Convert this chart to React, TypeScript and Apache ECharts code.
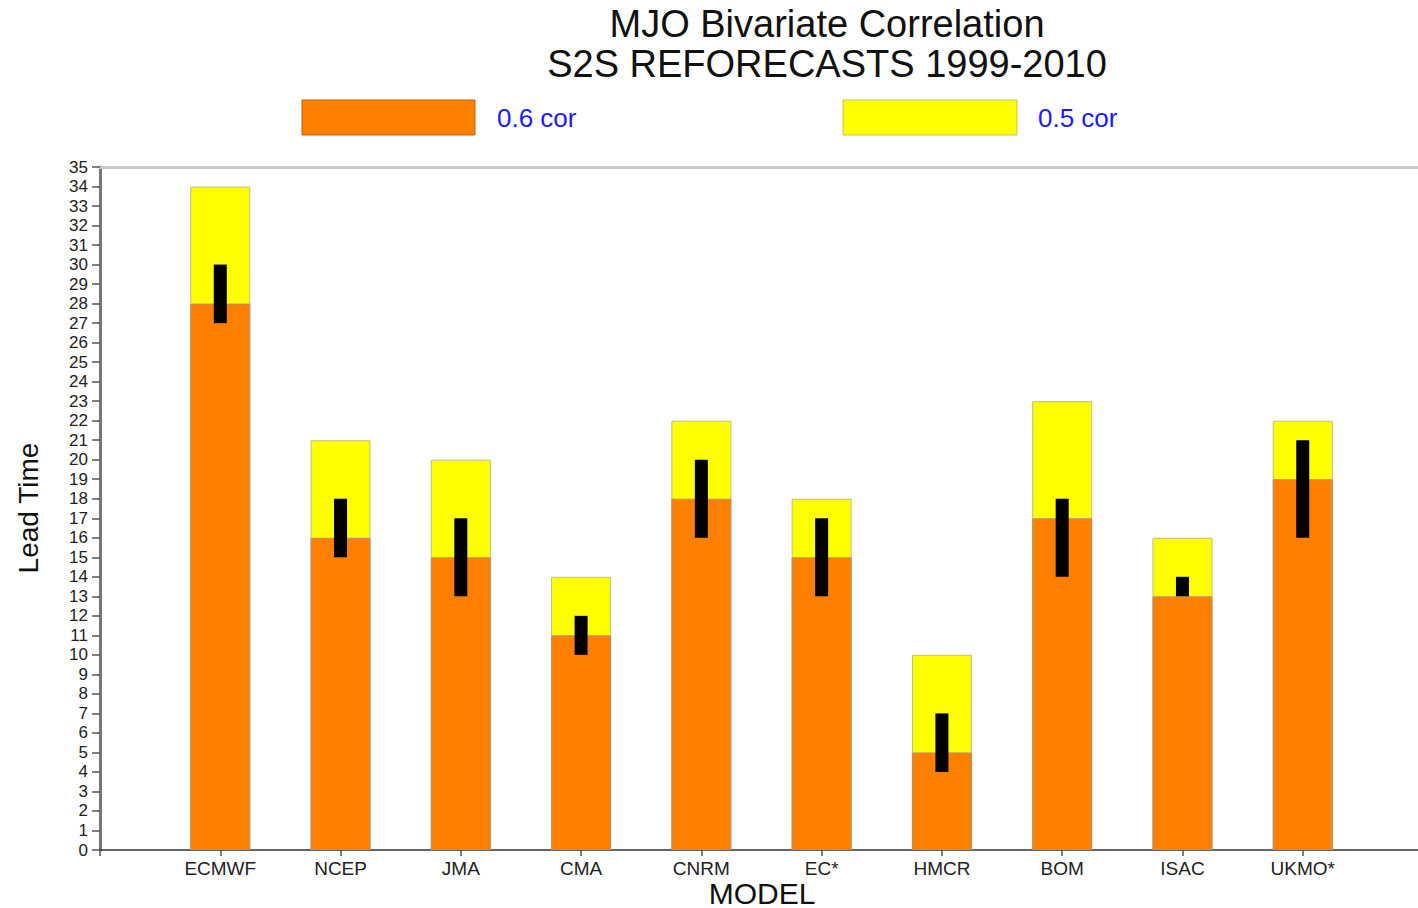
import React, { useEffect, useRef } from "react";
import * as echarts from "echarts";

const models = ["ECMWF", "NCEP", "JMA", "CMA", "CNRM", "EC*", "HMCR", "BOM", "ISAC", "UKMO*"];
const cor06 = [28, 16, 15, 11, 18, 15, 5, 17, 13, 19];
const cor05 = [34, 21, 20, 14, 22, 18, 10, 23, 16, 22];
const errLow = [27, 15, 13, 10, 16, 13, 4, 14, 13, 16];
const errHigh = [30, 18, 17, 12, 20, 17, 7, 18, 14, 21];

const FONT = "'Liberation Sans', Arial, Helvetica, sans-serif";

export default function App() {
  const ref = useRef<HTMLDivElement>(null);
  useEffect(() => {
    if (!ref.current) return;
    const chart = echarts.init(ref.current, undefined, { renderer: "svg" });
    const xs = models.map((_, i) => i + 1);
    const option: any = {
      animation: false,
      backgroundColor: "#ffffff",
      textStyle: { fontFamily: FONT },
      title: [
        {
          text: "MJO Bivariate Correlation",
          left: 822,
          top: 0,
          textAlign: "center",
          textStyle: { fontFamily: FONT, fontSize: 38, fontWeight: "normal", color: "#111" },
        },
        {
          text: "S2S REFORECASTS 1999-2010",
          left: 822,
          top: 40,
          textAlign: "center",
          textStyle: { fontFamily: FONT, fontSize: 38, fontWeight: "normal", color: "#111" },
        },
      ],
      legend: { show: false },
      graphic: [
        { type: "rect", shape: { x: 302, y: 100, width: 173, height: 35 }, style: { fill: "#ff8000", stroke: "#c06010", lineWidth: 1 } },
        { type: "text", x: 497, y: 118, style: { text: "0.6 cor", fill: "#1a1aff", fontSize: 26, fontFamily: FONT, textVerticalAlign: "middle" } },
        { type: "rect", shape: { x: 843, y: 100, width: 174, height: 35 }, style: { fill: "#ffff00", stroke: "#c8c060", lineWidth: 1 } },
        { type: "text", x: 1038, y: 118, style: { text: "0.5 cor", fill: "#1a1aff", fontSize: 26, fontFamily: FONT, textVerticalAlign: "middle" } },
        { type: "text", x: 762, y: 893, style: { text: "MODEL", fill: "#111", fontSize: 30, fontFamily: FONT, textAlign: "center", textVerticalAlign: "middle" } },
        { type: "text", x: 28, y: 508, rotation: Math.PI / 2, style: { text: "Lead Time", fill: "#111", fontSize: 28, fontFamily: FONT, textAlign: "center", textVerticalAlign: "middle" } },
      ],
      grid: { left: 100, top: 167, right: -5, bottom: 58, containLabel: false, outerBoundsMode: "none" },
      xAxis: [
        {
          type: "value",
          min: 0,
          max: 11,
          interval: 1,
          position: "bottom",
          splitLine: { show: false },
          axisLine: { show: true, onZero: false, lineStyle: { color: "#333", width: 1.5 } },
          axisTick: { show: true, length: 6, lineStyle: { color: "#555", width: 1.5 } },
          axisLabel: {
            show: true,
            fontSize: 19,
            color: "#222",
            fontFamily: FONT,
            margin: 9,
            formatter: (v: number) => (v >= 1 && v <= models.length ? models[v - 1] : ""),
          },
        },
        {
          type: "value",
          min: 0,
          max: 11,
          position: "top",
          splitLine: { show: false },
          axisLine: { show: true, onZero: false, lineStyle: { color: "#c8c8c8", width: 3 } },
          axisTick: { show: false },
          axisLabel: { show: false },
        },
      ],
      yAxis: {
        type: "value",
        min: 0,
        max: 35,
        interval: 1,
        splitLine: { show: false },
        axisLine: { show: true, onZero: false, lineStyle: { color: "#777", width: 3 } },
        axisTick: { show: true, length: 8, lineStyle: { color: "#555", width: 1.5 } },
        axisLabel: { fontSize: 17, color: "#222", fontFamily: FONT, margin: 12 },
      },
      series: [
        {
          name: "0.5 cor",
          type: "bar",
          barWidth: 60,
          barGap: "-100%",
          z: 2,
          data: xs.map((x, i) => [x, cor05[i]]),
          itemStyle: { color: "#ffff00", borderColor: "#c0c080", borderWidth: 1 },
        },
        {
          name: "0.6 cor",
          type: "bar",
          barWidth: 60,
          barGap: "-100%",
          z: 3,
          data: xs.map((x, i) => [x, cor06[i]]),
          itemStyle: { color: "#ff8000", borderColor: "#b89070", borderWidth: 1 },
        },
        {
          name: "range",
          type: "custom",
          data: xs.map((x, i) => [x, errLow[i], errHigh[i]]),
          encode: { x: 0, y: [1, 2] },
          renderItem: (params: any, api: any) => {
            const x = api.value(0);
            const lo = api.coord([x, api.value(1)]);
            const hi = api.coord([x, api.value(2)]);
            const w = 13;
            return {
              type: "rect",
              shape: { x: lo[0] - w / 2, y: hi[1], width: w, height: lo[1] - hi[1] },
              style: { fill: "#000000" },
            };
          },
          z: 10,
        },
      ],
    };
    chart.setOption(option);
    return () => chart.dispose();
  }, []);
  return (
    <div
      ref={ref}
      style={{ position: "fixed", left: 0, top: 0, width: 1418, height: 908, background: "#fff" }}
    />
  );
}
